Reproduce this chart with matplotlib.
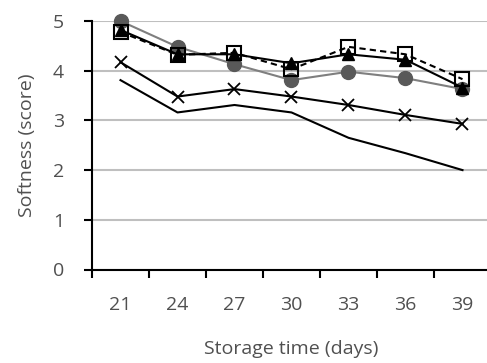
import matplotlib
matplotlib.use("Agg")
import matplotlib.pyplot as plt
import numpy as np

days = ["21", "24", "27", "30", "33", "36", "39"]
circle_vals = [5.00, 4.48, 4.13, 3.81, 3.98, 3.85, 3.63]
square_vals = [4.78, 4.32, 4.36, 4.03, 4.48, 4.33, 3.83]
triangle_vals = [4.82, 4.33, 4.33, 4.15, 4.33, 4.22, 3.66]
cross_vals = [4.17, 3.48, 3.63, 3.48, 3.31, 3.11, 2.93]
plain_vals = [3.81, 3.16, 3.31, 3.16, 2.65, 2.34, 2.00]
yticks = [0, 1, 2, 3, 4, 5]

plt.rcParams['font.family'] = ['Open Sans', 'DejaVu Sans']
txt = '#505050'
fs = 14

fig = plt.figure(figsize=(4.87, 3.63), dpi=100)
ax = fig.add_axes([92/487, 1-269.5/363, (491-92)/487, (269.5-21)/363])

x = np.arange(len(days))
ax.plot(x, circle_vals, color='#7f7f7f', lw=1.5, marker='o', ms=10,
        mfc='#595959', mec='#595959', zorder=3, clip_on=False)
ax.plot(x, square_vals, color='black', lw=1.5, ls=(0, (3, 2)), marker='s', ms=10,
        mfc='none', mec='black', mew=1.5, zorder=4, clip_on=False)
ax.plot(x, triangle_vals, color='black', lw=1.5, marker='^', ms=8,
        mfc='black', mec='black', zorder=5, clip_on=False)
ax.plot(x, cross_vals, color='black', lw=1.5, marker='x', ms=9,
        mew=1.3, zorder=5, clip_on=False)
ax.plot(x, plain_vals, color='black', lw=1.5, zorder=5, clip_on=False)

ax.set_xlim(-0.5, len(days) - 0.5)
ax.set_ylim(0, 5)
ax.set_yticks(yticks)
ax.set_yticklabels([str(v) for v in yticks], color=txt, fontsize=fs)
ax.set_xticks(x)
ax.set_xticklabels(days, color=txt, fontsize=fs)
ax.set_xticks(np.arange(len(days) + 1) - 0.5, minor=True)
ax.tick_params(axis='x', which='major', length=0, pad=19)
ax.tick_params(axis='x', which='minor', length=6, width=1.5, color='black', direction='out')
ax.tick_params(axis='y', length=6, width=1.5, color='black', direction='out', pad=14)

ax.yaxis.grid(True, color='#bfbfbf', lw=1.5)
ax.set_axisbelow(True)
for s in ['top', 'right']:
    ax.spines[s].set_visible(False)
ax.spines['left'].set_linewidth(1.5)
ax.spines['bottom'].set_linewidth(1.5)

ax.set_xlabel('Storage time (days)', color=txt, fontsize=fs, labelpad=19)
ax.set_ylabel('Softness (score)', color=txt, fontsize=fs, labelpad=12)

fig.savefig('out.png', dpi=100)
